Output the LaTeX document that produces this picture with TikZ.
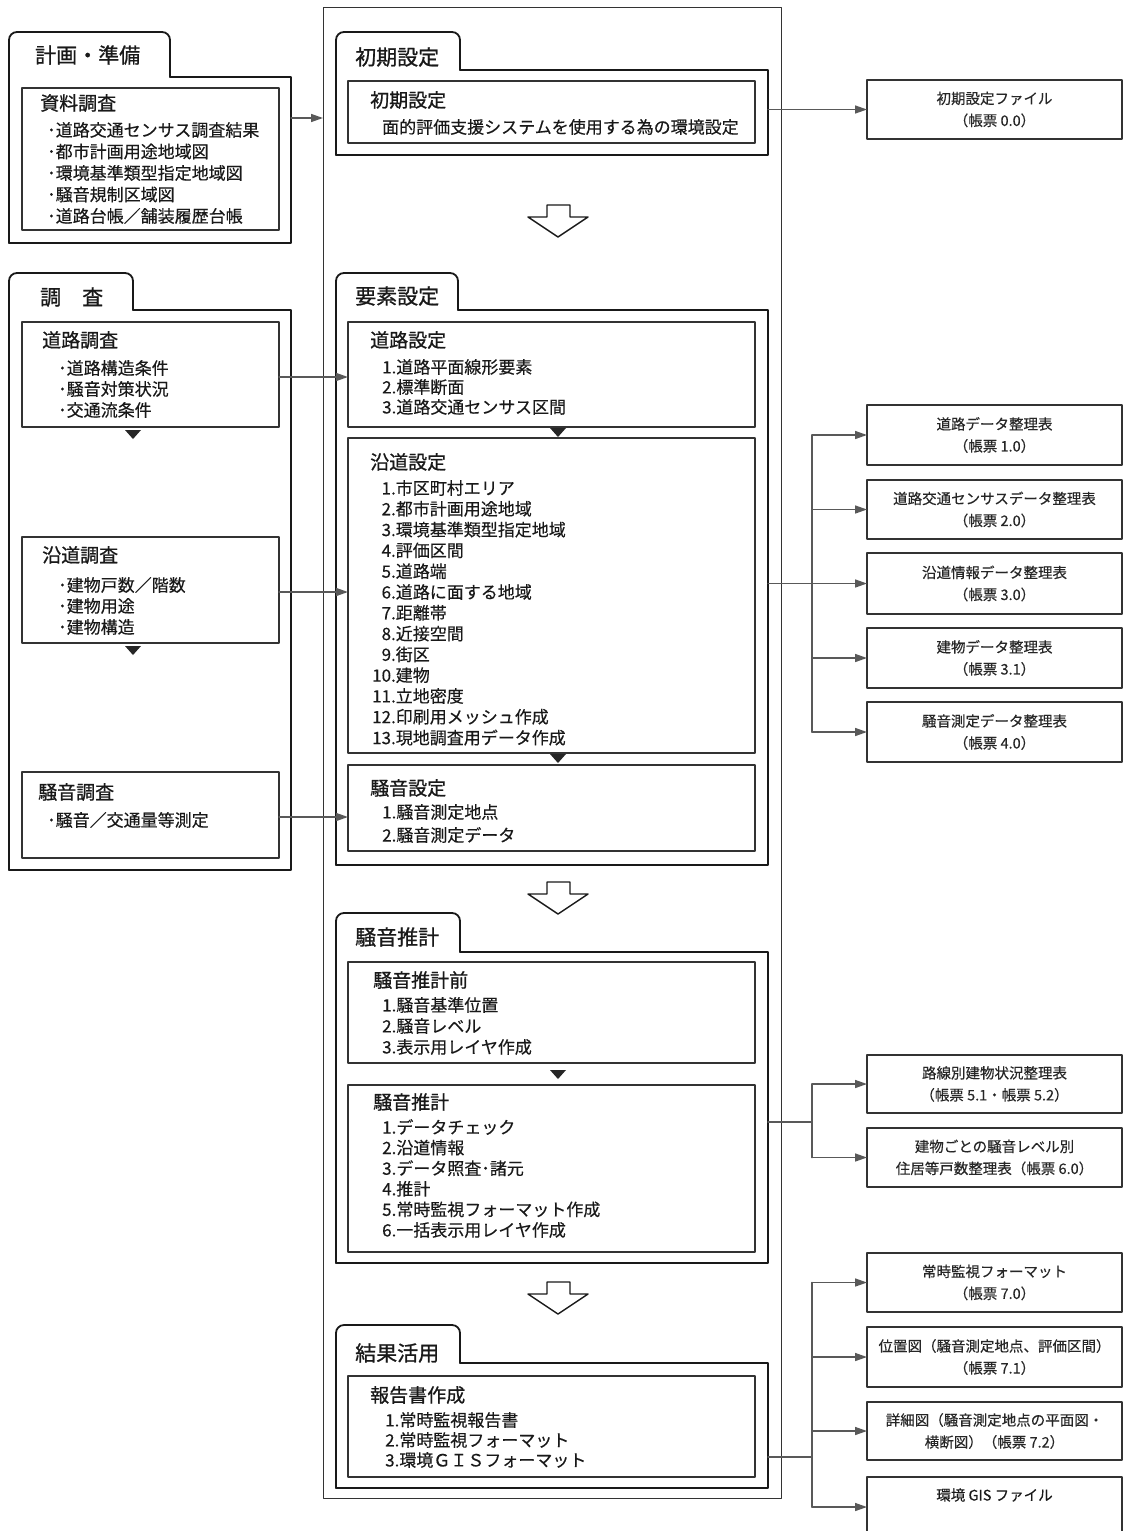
\documentclass[tikz,border=0pt]{standalone}
\usepackage{fontspec}
\setmainfont{Noto Sans CJK JP}[FakeBold=0.3]
\newfontfamily\hdr{Noto Sans CJK JP}[FakeBold=0.9]
\usetikzlibrary{arrows.meta}
% folder group: name, x1, tabtop, tabright, bodytop, x2, bottom
\newcommand\foldbox[7]{%
  \node[gbody, minimum width={(#6-#2)*1pt}, minimum height={(#7-#5)*1pt}] (#1) at (#2,#5) {};
  \draw[grp, rounded corners=8pt] (#1.south west) -- (#2,#3) -- (#4,#3) -- (#4,#5);
  \draw[grp] (#4,#5) -- (#1.north east) -- (#1.south east) -- (#1.south west);}
% inner box: name, x1, y1, x2, y2
\newcommand\innerbox[5]{%
  \node[ib, minimum width={(#4-#2)*1pt}, minimum height={(#5-#3)*1pt}] (#1) at (#2,#3) {};}
\newcommand\harrow[1]{%
  \draw[hollow] (547,#1) -- (570,#1) -- (570,#1+12) -- (588,#1+12) -- (558,#1+32) -- (528,#1+12) -- (547,#1+12) -- cycle;}
\newcommand\stri[2]{\fill[tri] (#1-8,#2) -- (#1+8,#2) -- (#1,#2+9) -- cycle;}
\begin{document}
\begin{tikzpicture}[x=1pt,y=-1pt,line join=round,line cap=round,
  gbody/.style={anchor=north west, inner sep=0pt, outer sep=0pt},
  grp/.style={draw=black!90, line width=1.8pt},
  ib/.style={draw=black!80, line width=1.1pt, anchor=north west, inner sep=0pt, outer sep=0pt},
  rbox/.style={draw=black!80, line width=1.1pt, anchor=north west, inner sep=0pt, outer sep=0pt,
    minimum width=255pt, align=center, text=black!85, font=\fontsize{14.5}{22}\selectfont},
  tabt/.style={anchor=west, inner sep=0pt, text=black!90, font=\hdr\fontsize{21}{24}\selectfont},
  hd/.style={anchor=west, inner sep=0pt, text=black!90, font=\hdr\fontsize{19}{22}\selectfont},
  it/.style={anchor=west, inner sep=0pt, text=black!90, font=\fontsize{17}{20}\selectfont},
  arr/.style={draw=black!65, line width=1.5pt, -{Triangle[length=12pt,width=8pt]}},
  ln/.style={draw=black!65, line width=1.5pt},
  hollow/.style={draw=black!90, line width=1.4pt, fill=white},
  tri/.style={fill=black!85}]
\fill[white] (0,0) rectangle (1123,1531);
\useasboundingbox (0,0) rectangle (1123,1531);

% outer centre column
\node[gbody, draw=black!80, line width=1pt, minimum width=458pt, minimum height=1491pt] (outer) at (323,7) {};

% ---------- left side ----------
\foldbox{gkei}{9}{32}{170}{77}{291}{243}
\node[tabt] (tkei) at (35,55) {計画・準備};
\innerbox{shiryo}{22}{88}{279}{230}
\node[hd] (hshiryo) at (40,103) {資料調査};
\foreach \t [count=\i from 0] in {･道路交通センサス調査結果,･都市計画用途地域図,･環境基準類型指定地域図,･騒音規制区域図,･道路台帳／舗装履歴台帳}
  \node[it] (si\i) at (47,130+21.5*\i) {\t};

\foldbox{gcho}{9}{273}{133}{310}{291}{870}
\node[tabt] (tcho) at (40,297) {調　査};
\innerbox{roadS}{22}{322}{279}{427}
\node[hd] (hroadS) at (42,340) {道路調査};
\foreach \t [count=\i from 0] in {･道路構造条件,･騒音対策状況,･交通流条件}
  \node[it] (rs\i) at (58,368+21*\i) {\t};
\stri{133}{430}
\innerbox{endoS}{22}{537}{279}{643}
\node[hd] (hendoS) at (42,555) {沿道調査};
\foreach \t [count=\i from 0] in {･建物戸数／階数,･建物用途,･建物構造}
  \node[it] (es\i) at (58,585+21*\i) {\t};
\stri{133}{646}
\innerbox{soonS}{22}{772}{279}{858}
\node[hd] (hsoonS) at (38,792) {騒音調査};
\node[it] (ss0) at (47,820) {･騒音／交通量等測定};

% ---------- centre ----------
\foldbox{gini}{336}{32}{460}{70}{768}{155}
\node[tabt] (tini) at (355,57) {初期設定};
\innerbox{iniin}{348}{81}{755}{143}
\node[hd] (hini) at (370,100) {初期設定};
\node[it] (ini0) at (382,127) {面的評価支援システムを使用する為の環境設定};

\harrow{205}

\foldbox{gyoso}{336}{273}{458}{310}{768}{865}
\node[tabt] (tyoso) at (355,296) {要素設定};
\innerbox{roadset}{348}{322}{755}{427}
\node[hd] (hroadset) at (370,340) {道路設定};
\foreach \t [count=\i from 0] in {1.道路平面線形要素,2.標準断面,3.道路交通センサス区間}
  \node[it] (rd\i) at (382,367+20*\i) {\t};
\stri{558}{428}
\innerbox{endoset}{348}{438}{755}{753}
\node[hd] (hendoset) at (370,462) {沿道設定};
\foreach \t [count=\i from 0] in {\phantom{1}1.市区町村エリア,\phantom{1}2.都市計画用途地域,\phantom{1}3.環境基準類型指定地域,\phantom{1}4.評価区間,\phantom{1}5.道路端,\phantom{1}6.道路に面する地域,\phantom{1}7.距離帯,\phantom{1}8.近接空間,\phantom{1}9.街区,10.建物,11.立地密度,12.印刷用メッシュ作成,13.現地調査用データ作成}
  \node[it] (ed\i) at (372,488+20.8*\i) {\t};
\stri{558}{754}
\innerbox{soonset}{348}{765}{755}{851}
\node[hd] (hsoonset) at (370,788) {騒音設定};
\foreach \t [count=\i from 0] in {1.騒音測定地点,2.騒音測定データ}
  \node[it] (sd\i) at (382,812+23*\i) {\t};

\harrow{882}

\foldbox{gsui}{336}{913}{460}{952}{768}{1263}
\node[tabt] (tsui) at (355,937) {騒音推計};
\innerbox{pre}{348}{962}{755}{1063}
\node[hd] (hpre) at (373,980) {騒音推計前};
\foreach \t [count=\i from 0] in {1.騒音基準位置,2.騒音レベル,3.表示用レイヤ作成}
  \node[it] (pr\i) at (382,1005+21*\i) {\t};
\stri{558}{1070}
\innerbox{est}{348}{1085}{755}{1252}
\node[hd] (hest) at (373,1102) {騒音推計};
\foreach \t [count=\i from 0] in {1.データチェック,2.沿道情報,3.データ照査･諸元,4.推計,5.常時監視フォーマット作成,6.一括表示用レイヤ作成}
  \node[it] (es\i) at (382,1127+20.6*\i) {\t};

\harrow{1282}

\foldbox{gkek}{336}{1325}{460}{1363}{768}{1488}
\node[tabt] (tkek) at (355,1353) {結果活用};
\innerbox{report}{348}{1376}{755}{1477}
\node[hd] (hreport) at (370,1395) {報告書作成};
\foreach \t [count=\i from 0] in {1.常時監視報告書,2.常時監視フォーマット,3.環境ＧＩＳフォーマット}
  \node[it] (rp\i) at (385,1420+20*\i) {\t};

% ---------- right side ----------
\node[rbox, minimum height=59pt] (r0) at (867,80) {初期設定ファイル\\（帳票 0.0）};
\node[rbox, minimum height=60pt] (r1) at (867,405) {道路データ整理表\\（帳票 1.0）};
\node[rbox, minimum height=59pt] (r2) at (867,480) {道路交通センサスデータ整理表\\（帳票 2.0）};
\node[rbox, minimum height=61pt] (r3) at (867,553) {沿道情報データ整理表\\（帳票 3.0）};
\node[rbox, minimum height=60pt] (r4) at (867,628) {建物データ整理表\\（帳票 3.1）};
\node[rbox, minimum height=60pt] (r5) at (867,702) {騒音測定データ整理表\\（帳票 4.0）};
\node[rbox, minimum height=58pt] (r6) at (867,1055) {路線別建物状況整理表\\（帳票 5.1・帳票 5.2）};
\node[rbox, minimum height=59pt] (r7) at (867,1128) {建物ごとの騒音レベル別\\住居等戸数整理表（帳票 6.0）};
\node[rbox, minimum height=59pt] (r8) at (867,1253) {常時監視フォーマット\\（帳票 7.0）};
\node[rbox, minimum height=60pt] (r9) at (867,1327) {位置図（騒音測定地点、評価区間）\\（帳票 7.1）};
\node[rbox, minimum height=58pt] (r10) at (867,1402) {詳細図（騒音測定地点の平面図・\\横断図）（帳票 7.2）};
\begin{scope}
  \clip (0,0) rectangle (1123,1531);
  \node[rbox, minimum height=62pt] (r11) at (867,1477) {};
  \node[it, font=\fontsize{14.5}{22}\selectfont, anchor=center] (r11t) at (994.5,1495) {環境 GIS ファイル};
\end{scope}

% ---------- connectors ----------
\coordinate (tr) at (812,0);
\draw[arr] (gkei.east |- 0,118) -- (outer.west |- 0,118);
\draw[arr] (roadS.east |- 0,377) -- (roadset.west |- 0,377);
\draw[arr] (endoS.east |- 0,592) -- (endoset.west |- 0,592);
\draw[arr] (soonS.east |- 0,817) -- (soonset.west |- 0,817);

\draw[arr] (gini.east |- r0.west) -- (r0.west);

\draw[ln] (gyoso.east |- r3.west) -- (tr |- r3.west);
\draw[ln] (tr |- r1.west) -- (tr |- r5.west);
\foreach \r in {r1,r2,r3,r4,r5} \draw[arr] (tr |- \r.west) -- (\r.west);

\draw[ln] (gsui.east |- 0,1122) -- (tr |- 0,1122);
\draw[ln] (tr |- r6.west) -- (tr |- r7.west);
\foreach \r in {r6,r7} \draw[arr] (tr |- \r.west) -- (\r.west);

\draw[ln] (gkek.east |- 0,1457) -- (tr |- 0,1457);
\draw[ln] (tr |- r8.west) -- (tr |- 0,1507);
\foreach \r in {r8,r9,r10} \draw[arr] (tr |- \r.west) -- (\r.west);
\draw[arr] (tr |- 0,1507) -- (r11.west |- 0,1507);
\end{tikzpicture}
\end{document}
